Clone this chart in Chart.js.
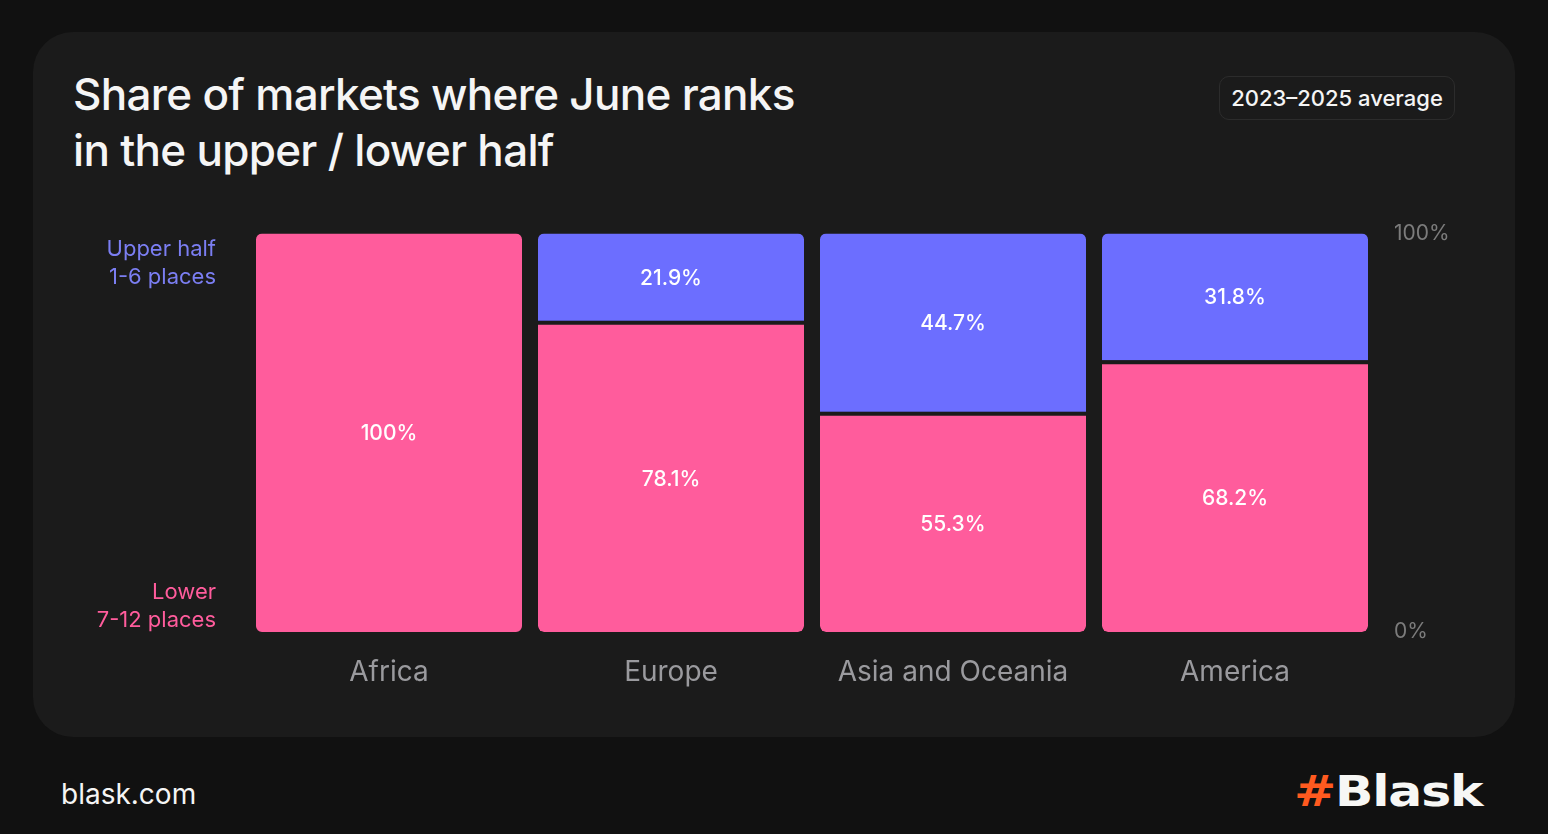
<!DOCTYPE html>
<html>
<head>
<meta charset="utf-8">
<script src="https://cdn.jsdelivr.net/npm/chart.js@4.4.1/dist/chart.umd.min.js"></script>
<style>
  html, body { margin: 0; padding: 0; }
  body { width: 1548px; height: 834px; background: #111111; position: relative; overflow: hidden; font-family: Inter, sans-serif; }
  .card { position: absolute; left: 33px; top: 32px; width: 1482px; height: 705px; background: #1b1b1b; border-radius: 40px; }
  .title { position: absolute; left: 73px; top: 66px; color: #f5f5f5; font-size: 44px; font-weight: 500; line-height: 56px; letter-spacing: -0.7px; }
  .badge { position: absolute; left: 1219px; top: 76px; width: 236px; height: 44px; border: 1.5px solid #2c2c2c; border-radius: 10px; box-sizing: border-box; color: #f5f5f5; font-size: 22px; font-weight: 500; line-height: 42px; text-align: center; }
  .chart-box { position: absolute; left: 60px; top: 211px; width: 1416px; height: 493px; }
  .footer { position: absolute; left: 61px; top: 777px; color: #f5f5f5; font-size: 28px; }
  .logo { position: absolute; left: 1294px; top: 766px; color: #f7f7f5; font-family: "DejaVu Sans", sans-serif; font-weight: 700; font-size: 42px; line-height: 52px; transform: scaleX(1.2); transform-origin: left center; letter-spacing: -1px; }
  .logo span { color: #ff5a1f; }
</style>
</head>
<body>
<div class="card"></div>
<div class="title">Share of markets where June ranks<br>in the upper / lower half</div>
<div class="badge">2023–2025 average</div>
<div class="chart-box"><canvas id="share-chart"></canvas></div>
<div class="footer">blask.com</div>
<div class="logo"><span>#</span>Blask</div>

<script>
'use strict';

const regions = ['Africa', 'Europe', 'Asia and Oceania', 'America'];
const upperHalf = [0, 21.9, 44.7, 31.8];
const lowerHalf = [100, 78.1, 55.3, 68.2];
const axisTicks = [0, 100];

const blue = '#6c6eff';
const pink = '#ff5c9c';
const cardBg = '#1b1b1b';

// side labels + value labels drawn on top of the bars

const labelsPlugin = {
    id: 'labels',
    afterDatasetsDraw(chart) {
        const { ctx, chartArea } = chart;
        ctx.save();

        ctx.font = '500 21px Inter';
        ctx.fillStyle = '#ffffff';
        ctx.textAlign = 'center';
        ctx.textBaseline = 'middle';

        chart.data.datasets.forEach((ds, i) => {
            const meta = chart.getDatasetMeta(i);
            meta.data.forEach((bar, j) => {
                const value = ds.data[j];
                if (!value) return;
                let top = bar.y;
                if (i === 0 && upperHalf[j] > 0) top += 4;
                const y = (top + bar.base) / 2;
                const text = value === 100 ? '100%' : value.toFixed(1) + '%';
                ctx.fillText(text, bar.x, y + 1);
            });
        });

        ctx.font = '400 22px Inter';
        ctx.textAlign = 'right';
        const x = chartArea.left - 32;
        ctx.fillStyle = '#7b7ef2';
        ctx.fillText('Upper half', x, chartArea.top + 16);
        ctx.fillText('1-6 places', x, chartArea.top + 44);
        ctx.fillStyle = pink;
        ctx.fillText('Lower', x, chartArea.bottom - 40);
        ctx.fillText('7-12 places', x, chartArea.bottom - 12);

        ctx.restore();
    }
};

new Chart(document.getElementById('share-chart'), {
    type: 'bar',
    data: {
        labels: regions,
        datasets: [{
            label: 'Lower half',
            data: lowerHalf,
            backgroundColor: pink,
            borderColor: cardBg,
            borderWidth: ctx => upperHalf[ctx.dataIndex] > 0 ? { top: 4, bottom: 0, left: 0, right: 0 } : 0,
            borderRadius: ctx => upperHalf[ctx.dataIndex] > 0
                ? { topLeft: 0, topRight: 0, bottomLeft: 6, bottomRight: 6 }
                : 6,
            borderSkipped: false,
            barPercentage: 1,
            categoryPercentage: 0.9433
        }, {
            label: 'Upper half',
            data: upperHalf,
            backgroundColor: blue,
            borderWidth: 0,
            borderRadius: { topLeft: 6, topRight: 6, bottomLeft: 0, bottomRight: 0 },
            borderSkipped: false,
            barPercentage: 1,
            categoryPercentage: 0.9433
        }]
    },
    options: {
        responsive: true,
        maintainAspectRatio: false,
        animation: false,
        layout: { padding: { left: 188, top: 10, right: 0, bottom: 0 } },
        plugins: {
            legend: { display: false },
            tooltip: { enabled: false }
        },
        scales: {
            x: {
                stacked: true,
                grid: { display: false },
                border: { display: false },
                ticks: { color: '#9a9a9e', font: { family: 'Inter', size: 28 }, padding: 16 },
                afterFit: scale => { scale.height = 72 }
            },
            y: {
                stacked: true,
                position: 'right',
                min: 0,
                max: 100,
                afterBuildTicks: scale => { scale.ticks = axisTicks.map(v => ({ value: v })) },
                grid: { display: false },
                border: { display: false },
                ticks: {
                    color: '#7c7c7c',
                    font: { family: 'Inter', size: 21 },
                    padding: 10,
                    callback: v => v + '%'
                },
                afterFit: scale => { scale.width = 100 }
            }
        }
    },
    plugins: [labelsPlugin]
});
</script>
</body>
</html>
